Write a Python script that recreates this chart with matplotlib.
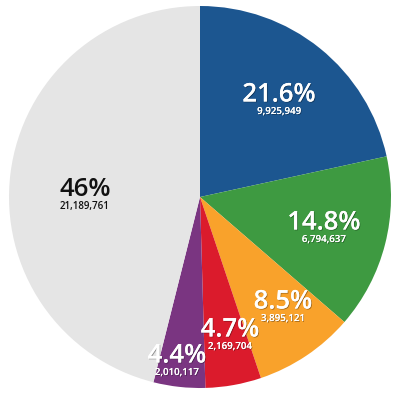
import matplotlib
matplotlib.use("Agg")
import matplotlib.pyplot as plt
import matplotlib.patheffects as pe

# Slice data, clockwise from 12 o'clock
values = [9925949, 6794637, 3895121, 2169704, 2010117, 21189761]
pct_labels = ["21.6%", "14.8%", "8.5%", "4.7%", "4.4%", "46%"]
colors = ["#1c5690", "#3e9a41", "#f9a22b", "#db1b2c", "#7a3581", "#e5e5e5"]
text_colors = ["white", "white", "white", "white", "white", "#111111"]

# label anchor positions in pixel coords
label_px = [(279, 95), (324, 223), (283, 302), (230, 330), (177, 356), (85, 190)]

R = 191.0
CX, CY = 200.0, 197.0

fig = plt.figure(figsize=(4, 4), dpi=100)
ax = fig.add_axes([0, 0, 1, 1])
ax.pie(values, colors=colors, startangle=90, counterclock=False,
       radius=1.0, wedgeprops=dict(linewidth=0))
ax.set_xlim(-CX / R, (400 - CX) / R)
ax.set_ylim(-(400 - CY) / R, CY / R)
ax.set_aspect("equal")
ax.axis("off")

font = ["Open Sans", "DejaVu Sans"]
for i, (px, py) in enumerate(label_px):
    x = (px - CX) / R
    y = (CY - py) / R
    if text_colors[i] == "white":
        fx = [pe.withSimplePatchShadow(offset=(0.6, -0.6), shadow_rgbFace="black", alpha=0.35), pe.Normal()]
    else:
        fx = None
    ax.text(x, y, pct_labels[i], ha="center", va="center", fontsize=18.5,
            fontweight="semibold", color=text_colors[i], family=font, path_effects=fx)
    ax.text(x, y - 16.5 / R, f"{values[i]:,}", ha="center", va="center", fontsize=7,
            fontweight="semibold", color=text_colors[i], family=font, path_effects=fx)

fig.savefig("out.png", dpi=100)
